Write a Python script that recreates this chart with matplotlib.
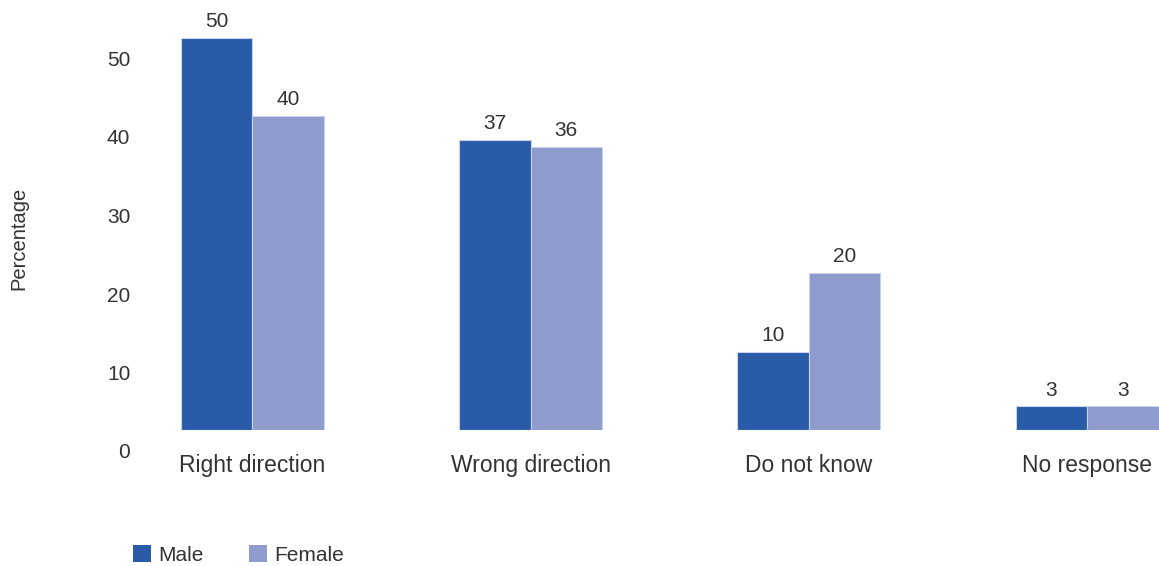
import matplotlib
matplotlib.use("Agg")
import matplotlib.pyplot as plt
import matplotlib.transforms as mtransforms
from matplotlib.patches import Patch
import numpy as np

plt.rcParams['font.family'] = ['Liberation Sans', 'DejaVu Sans']

categories = ["Right direction", "Wrong direction", "Do not know", "No response"]
male = [50, 37, 10, 3]
female = [40, 36, 20, 3]
yticks = [0, 10, 20, 30, 40, 50]

MALE_C = "#295ba8"
FEMALE_C = "#8e9bcc"
TEXT_C = "#333333"

W, H, DPI = 1159, 566, 100
fig = plt.figure(figsize=(W / DPI, H / DPI), dpi=DPI)

# axes in pixel geometry
left_px, right_px = 140, 1159
top_px, base_px = 20, 430
ax = fig.add_axes([left_px / W, 1 - base_px / H,
                   (right_px - left_px) / W, (base_px - top_px) / H])

unit_px = 278.3
center0_px = 252.3
ax.set_xlim((left_px - center0_px) / unit_px, (right_px - center0_px) / unit_px)
px_per_val = 7.85
ax.set_ylim(0, (base_px - top_px) / px_per_val)

x = np.arange(len(categories))
bw = 71.5 / unit_px
bm = ax.bar(x - bw / 2, male, bw, color=MALE_C, edgecolor="#c9d2ec", linewidth=0.8)
bf = ax.bar(x + bw / 2, female, bw, color=FEMALE_C, edgecolor="#c9d2ec", linewidth=0.8)

for bars in (bm, bf):
    for b in bars:
        ax.annotate(f"{b.get_height():g}", (b.get_x() + b.get_width() / 2, b.get_height()),
                    xytext=(0, 5), textcoords="offset points", ha="center", va="bottom",
                    fontsize=15, color=TEXT_C, annotation_clip=False)

for s in ax.spines.values():
    s.set_visible(False)

ax.set_yticks(yticks)
ax.tick_params(axis="y", length=0, pad=7, labelsize=15, labelcolor=TEXT_C)
offset = mtransforms.ScaledTranslation(0, -21 / DPI, fig.dpi_scale_trans)
for lab in ax.get_yticklabels():
    lab.set_transform(lab.get_transform() + offset)

ax.set_xticks(x)
ax.set_xticklabels(categories)
ax.tick_params(axis="x", length=0, pad=17, labelsize=16.5, labelcolor=TEXT_C)

fig.text(19 / W, 1 - 238 / H, "Percentage", rotation=90, ha="center", va="center",
         fontsize=14.5, color=TEXT_C)

handles = [Patch(facecolor=MALE_C, label="Male"), Patch(facecolor=FEMALE_C, label="Female")]
fig.legend(handles=handles, loc="center left", bbox_to_anchor=(133 / W, 1 - 555 / H),
           ncol=2, frameon=False, fontsize=15, handlelength=0.87, handleheight=0.87,
           handletextpad=0.33, columnspacing=2.2, borderpad=0, borderaxespad=0,
           labelcolor=TEXT_C)

fig.savefig("out.png", dpi=DPI)
